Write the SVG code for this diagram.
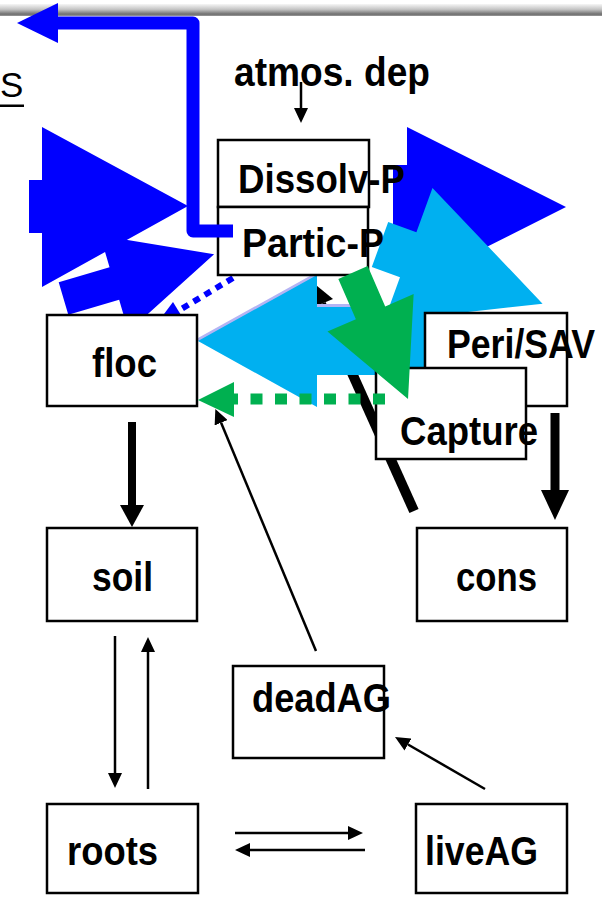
<svg xmlns="http://www.w3.org/2000/svg" width="602" height="901" viewBox="0 0 602 901">
  <defs>
    <linearGradient id="band" x1="0" y1="0" x2="0" y2="1">
      <stop offset="0" stop-color="#f6f6f6"/>
      <stop offset="0.45" stop-color="#c4c4c4"/>
      <stop offset="0.85" stop-color="#6e6e6e"/>
      <stop offset="1" stop-color="#9a9a9a"/>
    </linearGradient>
    <marker id="thin-head" markerUnits="userSpaceOnUse" markerWidth="16" markerHeight="14" refX="0" refY="7" orient="auto">
      <path d="M0,0 L15,7 L0,14 Z" fill="#000"/>
    </marker>
  </defs>
  <style>
    .box { fill: #fff; stroke: #000; stroke-width: 2.5; }
    .lbl { font-family: "Liberation Sans", Arial, sans-serif; font-weight: bold; font-size: 40px; fill: #000; }
    .thin { stroke: #000; stroke-width: 2.5; fill: none; marker-end: url(#thin-head); }
    .blue { fill: #0000ff; }
    .cyan { fill: #00b0f0; }
    .green { fill: #00b050; }
    .black { fill: #000; }
  </style>

  <rect width="602" height="901" fill="#fff"/>
  <!-- window header band -->
  <rect x="0" y="4" width="602" height="12" fill="url(#band)"/>

  <!-- label fragment at the left edge -->
  <g id="label-s">
    <text x="0" y="97" font-family="'Liberation Sans', Arial, sans-serif" font-size="35">S</text>
    <rect x="0" y="104.5" width="24" height="2.5" fill="#000"/>
  </g>

  <!-- connectors drawn beneath the boxes -->
  <g id="connectors-back">
    <!-- large blue flows on the left -->
    <polygon class="blue" points="29,180 42,180 42,127 188,206 42,287 42,233 29,233"/>
    <polygon class="blue" transform="translate(63.5,298.5) rotate(-16.4)" points="0,-17 53,-17 53,-50 157,0 53,50 53,17 0,17"/>
    <!-- blue dotted Partic-P to floc -->
    <path d="M233,278 L178,311" stroke="#0000ff" stroke-width="6" stroke-dasharray="7 6" fill="none"/>
    <polygon class="blue" points="158,322 173,302 184,320"/>
    <!-- large blue flow on the right -->
    <polygon class="blue" points="393,165 407,165 407,127 566,207 407,287 407,249 393,249"/>
    <!-- cyan flow up-right -->
    <polygon class="cyan" transform="translate(380,244.5) rotate(20)" points="0,-24 30,-24 30,-71 173,0 30,71 30,24 0,24"/>
    <!-- thick black cons to Partic-P -->
    <line x1="414" y1="511" x2="321" y2="304" stroke="#000" stroke-width="10"/>
    <polygon class="black" points="311,281 333,299 309,309"/>
    <!-- cyan flow into floc, with a lavender edge along its top -->
    <polygon fill="#b4b4f4" points="198,338 317,272 317,304 352,304 352,330 198,341"/>
    <polygon class="cyan" points="198,341 317,275 317,307 440,307 440,375 317,375 317,407"/>
    <!-- thick black downward flows -->
    <line x1="132" y1="422" x2="132" y2="506" stroke="#000" stroke-width="8"/>
    <polygon class="black" points="120,505 144,505 132,527"/>
    <line x1="555" y1="413" x2="555" y2="491" stroke="#000" stroke-width="9"/>
    <polygon class="black" points="541,490 569,490 555,520"/>
    <!-- thin arrows -->
    <line class="thin" x1="301" y1="82" x2="301" y2="108"/>
    <line class="thin" x1="115" y1="636" x2="115" y2="773"/>
    <line class="thin" x1="148" y1="789" x2="148" y2="652"/>
    <line class="thin" x1="235" y1="833" x2="348" y2="833"/>
    <line class="thin" x1="365" y1="850" x2="250" y2="850"/>
    <line class="thin" x1="485" y1="789" x2="408" y2="744.5"/>
    <line class="thin" x1="316" y1="651" x2="221.1" y2="422.8"/>
  </g>

  <g id="atmos-dep">
    <text class="lbl" x="234" y="86" textLength="196" lengthAdjust="spacingAndGlyphs">atmos. dep</text>
  </g>
  <g id="dissolv-p">
    <rect class="box" x="218" y="140" width="151" height="67"/>
    <text class="lbl" x="238" y="193" textLength="167" lengthAdjust="spacingAndGlyphs">Dissolv-P</text>
  </g>
  <g id="partic-p">
    <rect class="box" x="218" y="207" width="150" height="68"/>
    <text class="lbl" x="242" y="257" textLength="142" lengthAdjust="spacingAndGlyphs">Partic-P</text>
  </g>
  <g id="floc">
    <rect class="box" x="47" y="315" width="150" height="91"/>
    <text class="lbl" x="92" y="377" textLength="65" lengthAdjust="spacingAndGlyphs">floc</text>
  </g>
  <g id="soil">
    <rect class="box" x="47" y="528" width="150" height="93"/>
    <text class="lbl" x="92" y="591" textLength="61" lengthAdjust="spacingAndGlyphs">soil</text>
  </g>
  <g id="cons">
    <rect class="box" x="417" y="528" width="150" height="93"/>
    <text class="lbl" x="456" y="591" textLength="81" lengthAdjust="spacingAndGlyphs">cons</text>
  </g>
  <g id="deadAG">
    <rect class="box" x="233" y="666" width="151" height="92"/>
    <text class="lbl" x="252" y="712" textLength="139" lengthAdjust="spacingAndGlyphs">deadAG</text>
  </g>
  <g id="roots">
    <rect class="box" x="47" y="804" width="151" height="89"/>
    <text class="lbl" x="67" y="865" textLength="91" lengthAdjust="spacingAndGlyphs">roots</text>
  </g>
  <g id="liveAG">
    <rect class="box" x="416" y="804" width="151" height="89"/>
    <text class="lbl" x="425" y="865" textLength="113" lengthAdjust="spacingAndGlyphs">liveAG</text>
  </g>
  <g id="peri-sav">
    <rect class="box" x="425" y="313" width="142" height="93"/>
    <text class="lbl" x="447" y="358" textLength="148" lengthAdjust="spacingAndGlyphs">Peri/SAV</text>
  </g>
  <g id="capture">
    <rect class="box" x="376" y="368" width="150" height="91"/>
    <text class="lbl" x="400" y="445" textLength="138" lengthAdjust="spacingAndGlyphs">Capture</text>
  </g>

  <!-- connectors drawn over the boxes -->
  <g id="connectors-front">
    <!-- blue export line out of Partic-P -->
    <polyline points="233,231 193,231 193,23 58,23" fill="none" stroke="#0000ff" stroke-width="13" stroke-linejoin="round"/>
    <polygon class="blue" points="58,3 17,23 58,43"/>
    <!-- green flow into Capture -->
    <polygon class="green" transform="translate(353,272.5) rotate(66.5)" points="0,-16 44,-16 44,-47 138,0 44,47 44,16 0,16"/>
    <!-- green dotted Capture to floc -->
    <path d="M385,399 H233" stroke="#00b050" stroke-width="11" stroke-dasharray="12 12.5" fill="none"/>
    <polygon class="green" points="198,400 234,382 234,417"/>
  </g>
</svg>
